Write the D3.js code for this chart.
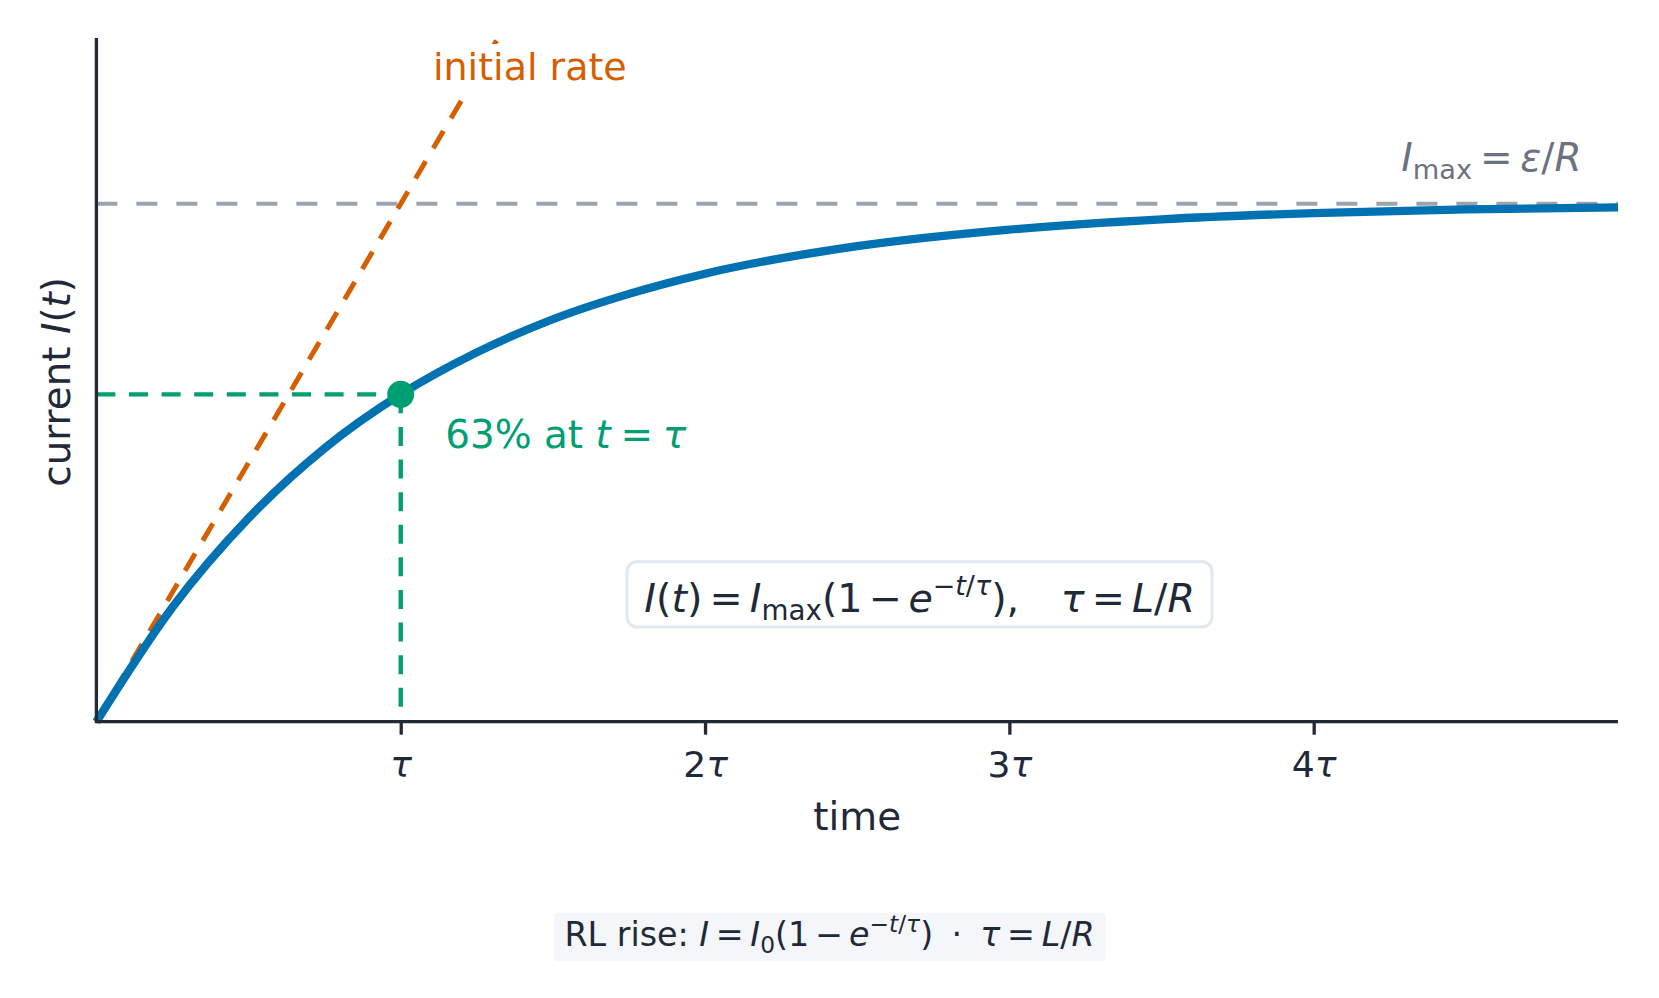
<!DOCTYPE html>
<html>
<head>
<meta charset="utf-8">
<script src="https://cdn.jsdelivr.net/npm/d3@7"></script>
<style>
  html, body { margin: 0; padding: 0; background: #ffffff; }
  svg { display: block; }
  text { font-family: "DejaVu Sans", sans-serif; white-space: pre; }
</style>
</head>
<body>
<svg id="chart" width="1659" height="998"></svg>
<script>
// ---- data ----
const timeValues    = [0, 0.25, 0.5, 0.75, 1, 1.25, 1.5, 1.75, 2, 2.5, 3, 3.5, 4, 4.5, 5];   // in units of tau
const currentValues = [0, 0.221, 0.393, 0.528, 0.632, 0.713, 0.777, 0.826, 0.865, 0.918, 0.950, 0.970, 0.982, 0.989, 0.993]; // I / Imax
const tangentT      = [0, 1.32];
const tangentI      = [0, 1.32];
const markerT       = 1;
const markerI       = 0.632;
const imaxLevel     = 1;
const tickValues    = [1, 2, 3, 4];
const tickLabels    = ["", "2", "3", "4"];   // followed by italic tau
const xDomain       = [0, 5];
const yDomain       = [0, 1.32];

// ---- colours ----
const C = {
  blue: "#0072B2", orange: "#D55E00", green: "#009E73",
  gray: "#9ca3af", grayText: "#6b7280", ink: "#1f2937", spine: "#222834",
  boxBorder: "#e2e8f0", capBg: "#f4f6f9"
};

const svg = d3.select("#chart");
const x = d3.scaleLinear().domain(xDomain).range([96.4, 1618]);
const y = d3.scaleLinear().domain(yDomain).range([721.7, 38]);

// helper: rich text with italic / sub / sup runs
function rich(sel, parts, fontSize) {
  let cur = 0; // current baseline offset in px
  parts.forEach(p => {
    const scale = p.s || 1;
    const target = p.sh === "sub" ? 0.22 * fontSize : p.sh === "sup" ? -0.42 * fontSize : 0;
    const ts = sel.append("tspan").text(p.t)
      .attr("font-size", fontSize * scale)
      .attr("dy", target - cur);
    if (p.it) ts.attr("font-style", "italic");
    if (p.dx) ts.attr("dx", p.dx);
    cur = target;
  });
}

// ---- gray Imax reference ----
svg.append("line")
  .attr("x1", x(xDomain[0])).attr("x2", x(xDomain[1]))
  .attr("y1", y(imaxLevel)).attr("y2", y(imaxLevel))
  .attr("stroke", C.gray).attr("stroke-width", 4)
  .attr("stroke-dasharray", "21 19");

// ---- tangent (initial rate) ----
const line = d3.line().x(d => x(d[0])).y(d => y(d[1]));
svg.append("path")
  .datum(tangentT.map((t, i) => [t, tangentI[i]]))
  .attr("d", line)
  .attr("fill", "none").attr("stroke", C.orange).attr("stroke-width", 5)
  .attr("stroke-dasharray", "20 15");

// ---- green guides ----
svg.append("line")
  .attr("x1", x(0)).attr("x2", x(markerT))
  .attr("y1", y(markerI)).attr("y2", y(markerI))
  .attr("stroke", C.green).attr("stroke-width", 4.4)
  .attr("stroke-dasharray", "19 13.6");
svg.append("line")
  .attr("x1", x(markerT)).attr("x2", x(markerT))
  .attr("y1", y(markerI)).attr("y2", y(0))
  .attr("stroke", C.green).attr("stroke-width", 4.4)
  .attr("stroke-dasharray", "19 13.6");

// ---- main curve ----
svg.append("path")
  .datum(timeValues.map((t, i) => [t, currentValues[i]]))
  .attr("d", d3.line().x(d => x(d[0])).y(d => y(d[1])).curve(d3.curveMonotoneX))
  .attr("fill", "none").attr("stroke", C.blue).attr("stroke-width", 8.3)
  .attr("stroke-linejoin", "round");

// ---- marker ----
svg.append("circle")
  .attr("cx", x(markerT)).attr("cy", y(markerI)).attr("r", 13.5)
  .attr("fill", C.green);

// ---- axes ----
const xAxis = svg.append("g")
  .attr("transform", `translate(0,${y(0)})`)
  .call(d3.axisBottom(x).tickValues(tickValues).tickSize(13).tickSizeOuter(0).tickFormat(""));
xAxis.select(".domain").attr("stroke", C.spine).attr("stroke-width", 3.3)
  .attr("d", `M${x(xDomain[0])},0H${x(xDomain[1])}`);
xAxis.selectAll(".tick line").attr("stroke", C.spine).attr("stroke-width", 3.3);
xAxis.selectAll(".tick").each(function(d, i) {
  const t = d3.select(this).append("text")
    .attr("y", 55).attr("text-anchor", "middle").attr("fill", C.ink);
  rich(t, [{t: tickLabels[i]}, {t: "τ", it: true}], 36.1);
});

svg.append("line")
  .attr("x1", x(0)).attr("x2", x(0))
  .attr("y1", y(yDomain[1])).attr("y2", y(0) + 1.6)
  .attr("stroke", C.spine).attr("stroke-width", 3.3);

// axis labels
svg.append("text").attr("x", (x(xDomain[0]) + x(xDomain[1])) / 2).attr("y", 830)
  .attr("text-anchor", "middle").attr("fill", C.ink).attr("font-size", 38.9).text("time");
const yl = svg.append("text")
  .attr("transform", `translate(70,${(y(yDomain[0]) + y(yDomain[1])) / 2 + 2}) rotate(-90)`)
  .attr("text-anchor", "middle").attr("fill", C.ink);
rich(yl, [{t: "current "}, {t: "I", it: true}, {t: "("}, {t: "t", it: true}, {t: ")"}], 38.9);

// ---- annotations ----
// initial rate (white backing box)
svg.append("rect").attr("x", 426).attr("y", 44).attr("width", 205).attr("height", 53).attr("fill", "#ffffff");
svg.append("text").attr("x", x(1.106)).attr("y", y(1.239))
  .attr("fill", C.orange).attr("font-size", 38).text("initial rate");

// 63% label
const g63 = svg.append("text").attr("x", x(1.146)).attr("y", y(0.529)).attr("fill", C.green);
rich(g63, [{t: "63% at "}, {t: "t", it: true}, {t: "=", dx: "0.25em"}, {t: "τ", it: true, dx: "0.25em"}], 38.9);

// Imax label
const gIm = svg.append("text").attr("x", x(4.88)).attr("y", y(1.064))
  .attr("text-anchor", "end").attr("fill", C.grayText);
rich(gIm, [{t: "I", it: true}, {t: "max", sh: "sub", s: 0.7}, {t: "=", dx: "0.2em"},
           {t: "ε", it: true, dx: "0.2em"}, {t: "/"}, {t: "R", it: true}], 38.9);

// formula box
const fbox = svg.append("rect").attr("fill", "#ffffff")
  .attr("stroke", C.boxBorder).attr("stroke-width", 3).attr("rx", 10);
const ft = svg.append("text").attr("x", x(2.705)).attr("y", 611.7)
  .attr("text-anchor", "middle").attr("fill", C.ink);
rich(ft, [
  {t: "I", it: true}, {t: "("}, {t: "t", it: true}, {t: ")"},
  {t: "=", dx: "0.18em"}, {t: "I", it: true, dx: "0.18em"}, {t: "max", sh: "sub", s: 0.7},
  {t: "(1"}, {t: "−", dx: "0.16em"}, {t: "e", it: true, dx: "0.16em"},
  {t: "−", sh: "sup", s: 0.68}, {t: "t", sh: "sup", s: 0.68, it: true}, {t: "/", sh: "sup", s: 0.68}, {t: "τ", sh: "sup", s: 0.68, it: true},
  {t: "),"}, {t: "τ", it: true, dx: "1.05em"}, {t: "=", dx: "0.18em"}, {t: "L", it: true, dx: "0.18em"}, {t: "/"}, {t: "R", it: true}
], 39.6);
fbox.attr("x", 627).attr("y", 561.7).attr("width", 585).attr("height", 65.3);

// caption
const cap = svg.append("rect").attr("x", 554).attr("y", 912.7).attr("width", 551.5).attr("height", 48.3)
  .attr("rx", 4).attr("fill", C.capBg);
const ct = svg.append("text").attr("x", 829.5).attr("y", 946).attr("text-anchor", "middle").attr("fill", C.ink);
rich(ct, [
  {t: "RL rise: "}, {t: "I", it: true}, {t: "=", dx: "0.2em"}, {t: "I", it: true, dx: "0.2em"},
  {t: "0", sh: "sub", s: 0.7}, {t: "(1"}, {t: "−", dx: "0.18em"}, {t: "e", it: true, dx: "0.18em"},
  {t: "−", sh: "sup", s: 0.7}, {t: "t", sh: "sup", s: 0.7, it: true}, {t: "/", sh: "sup", s: 0.7}, {t: "τ", sh: "sup", s: 0.7, it: true},
  {t: ")"}, {t: "·", dx: "0.55em"}, {t: "τ", it: true, dx: "0.55em"}, {t: "=", dx: "0.2em"},
  {t: "L", it: true, dx: "0.2em"}, {t: "/"}, {t: "R", it: true}
], 33.3);
</script>
</body>
</html>
